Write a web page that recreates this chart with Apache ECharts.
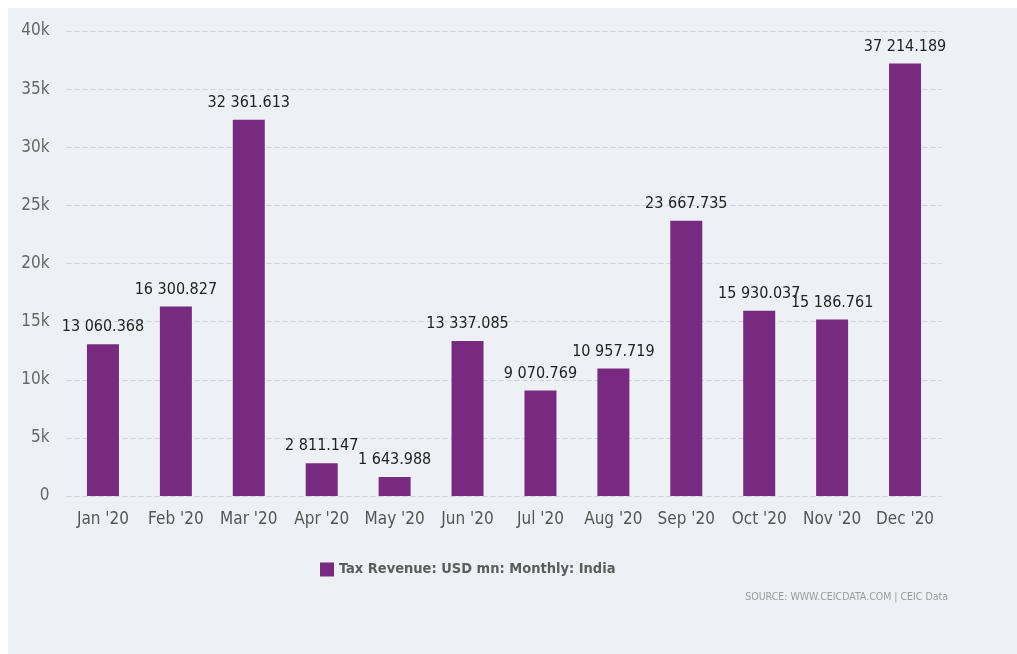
<!DOCTYPE html>
<html>
<head>
<meta charset="utf-8">
<script src="https://cdn.jsdelivr.net/npm/echarts@6/dist/echarts.min.js"></script>
<style>
  html, body { margin: 0; padding: 0; background: #ffffff; }
  #panel { position: absolute; left: 8px; top: 8px; width: 1009px; height: 646px; background: #EDF1F5; }
  #chart { position: absolute; left: 0; top: 0; width: 1017px; height: 654px; }
</style>
</head>
<body>
<div id="panel"></div>
<div id="chart"></div>
<script>
// Monthly tax revenue, India, 2020 (USD mn)
const months = ["Jan '20", "Feb '20", "Mar '20", "Apr '20", "May '20", "Jun '20",
                "Jul '20", "Aug '20", "Sep '20", "Oct '20", "Nov '20", "Dec '20"];
const taxRevenue = [13060.368, 16300.827, 32361.613, 2811.147, 1643.988, 13337.085,
                    9070.769, 10957.719, 23667.735, 15930.037, 15186.761, 37214.189];
const seriesName = 'Tax Revenue: USD mn: Monthly: India';
const sourceNote = 'SOURCE: WWW.CEICDATA.COM | CEIC Data';

const FONT = '"DejaVu Sans Condensed", "Liberation Sans Narrow", sans-serif';

// 13 060.368 style: space-grouped thousands, three decimals
function fmt(v) {
  const parts = v.toFixed(3).split('.');
  parts[0] = parts[0].replace(/\B(?=(\d{3})+(?!\d))/g, ' ');
  return parts.join('.');
}

const chart = echarts.init(document.getElementById('chart'), null, { renderer: 'canvas' });
chart.setOption({
  backgroundColor: 'transparent',
  animation: false,
  textStyle: { fontFamily: FONT },
  title: {
    text: sourceNote,
    right: 64,
    top: 587,
    textStyle: { fontFamily: FONT, fontSize: 10.5, fontWeight: 'normal', color: '#9a9a9a' }
  },
  legend: {
    data: [seriesName],
    left: 315,
    top: 557,
    icon: 'rect',
    itemWidth: 14,
    itemHeight: 14,
    itemGap: 6,
    textStyle: { fontFamily: FONT, fontSize: 14.5, fontWeight: 'bold', color: '#5c5c5c' }
  },
  grid: { left: 66.5, right: 75.5, top: 31, bottom: 158, containLabel: false },
  xAxis: {
    type: 'category',
    data: months,
    axisLine: { show: false },
    axisTick: { show: false },
    axisLabel: { fontFamily: FONT, fontSize: 17, color: '#555555', margin: 15, interval: 0 }
  },
  yAxis: {
    type: 'value',
    min: 0,
    max: 40000,
    interval: 5000,
    axisLine: { show: false },
    axisTick: { show: false },
    axisLabel: {
      fontFamily: FONT, fontSize: 17, color: '#666666', margin: 17,
      formatter: v => v === 0 ? '0' : (v / 1000) + 'k'
    },
    splitLine: { lineStyle: { color: '#ccd2d9', type: [5, 3], width: 1 } }
  },
  series: [{
    name: seriesName,
    type: 'bar',
    data: taxRevenue,
    barWidth: 32,
    itemStyle: { color: '#782A80' },
    label: {
      show: true,
      position: 'top',
      distance: 9,
      fontFamily: FONT,
      fontSize: 16,
      color: '#222222',
      formatter: p => fmt(p.value)
    }
  }]
});
</script>
</body>
</html>
